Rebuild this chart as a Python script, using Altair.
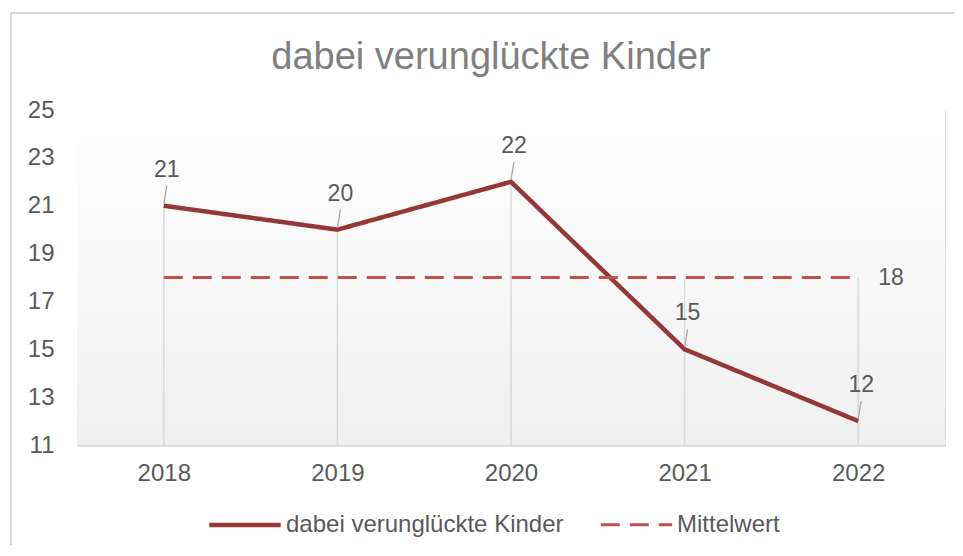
import altair as alt
import pandas as pd
import numpy as np

# ---- data ----
years = ["2018", "2019", "2020", "2021", "2022"]
kinder = [21, 20, 22, 15, 12]
mittelwert = 18
series_names = ["dabei verunglückte Kinder", "Mittelwert"]
y_ticks = [11, 13, 15, 17, 19, 21, 23, 25]
title_text = "dabei verunglückte Kinder"

FONT = "Liberation Sans"
TEXT = "#595959"
RED_DARK = "#953735"
RED_LIGHT = "#c0504d"
GRID = "#d9d9d9"
W, H = 868, 335

long = pd.DataFrame({
    "Jahr": years * 2,
    "Wert": kinder + [mittelwert] * len(years),
    "Reihe": [series_names[0]] * len(years) + [series_names[1]] * len(years),
})
main = pd.DataFrame({"Jahr": years, "Wert": kinder})
drops = pd.DataFrame({
    "Jahr": years,
    "unten": [y_ticks[0]] * len(years),
    "oben": np.maximum(kinder, mittelwert),
})
mean_lbl = pd.DataFrame({"Jahr": [years[-1]], "Wert": [mittelwert]})

x_scale = alt.Scale(type="point", padding=0.5, domain=years)
y_scale = alt.Scale(domain=[y_ticks[0], y_ticks[-1]], nice=False, zero=False)

x_axis = alt.Axis(title=None, labelAngle=0, labelFontSize=24, labelColor=TEXT, labelFont=FONT,
                  labelPadding=16, domainColor=GRID, domainWidth=2.5, ticks=False, grid=False)
y_axis = alt.Axis(title=None, values=y_ticks, labelFontSize=24, labelColor=TEXT, labelFont=FONT,
                  labelPadding=23, domain=False, ticks=False, grid=False)

X = alt.X("Jahr:N", scale=x_scale, axis=x_axis)
Y = alt.Y("Wert:Q", scale=y_scale, axis=y_axis)

# background gradient of the plot area
bg = alt.Chart(main).mark_rect(
    color=alt.LinearGradient(
        gradient="linear",
        stops=[alt.GradientStop(color="#ffffff", offset=0),
               alt.GradientStop(color="#f0f0f0", offset=1)],
        x1=0, x2=0, y1=0, y2=1,
    )
).encode(x=alt.value(0), x2=alt.value(W), y=alt.value(0), y2=alt.value(H))

# outer chart border
border = alt.Chart(main).mark_rect(filled=False, color=GRID, strokeWidth=1.5, clip=False).encode(
    x=alt.value(-66), x2=alt.value(900), y=alt.value(-97), y2=alt.value(500)
)

drop_lines = alt.Chart(drops).mark_rule(color=GRID, strokeWidth=1.5).encode(
    x=X,
    y=alt.Y("unten:Q", scale=y_scale, axis=y_axis),
    y2="oben:Q",
)

leg = alt.Legend(title=None, orient="none", legendX=130, legendY=377, direction="horizontal",
                 symbolType="stroke", symbolSize=5100, labelFontSize=24, labelFont=FONT,
                 labelColor=TEXT, labelOffset=3, columnPadding=30, labelLimit=500)

lines = alt.Chart(long).mark_line().encode(
    x=X,
    y=Y,
    color=alt.Color("Reihe:N", scale=alt.Scale(domain=series_names, range=[RED_DARK, RED_LIGHT]), legend=leg),
    strokeDash=alt.StrokeDash("Reihe:N", scale=alt.Scale(domain=series_names, range=[[1, 0], [19, 10]]), legend=leg),
    strokeWidth=alt.StrokeWidth("Reihe:N", scale=alt.Scale(domain=series_names, range=[4.5, 3]), legend=leg),
    order=alt.Order("Jahr:N"),
)

leaders = alt.Chart(main).mark_rule(color="#a6a6a6", strokeWidth=1.3, yOffset=-2, x2Offset=3, y2Offset=-20).encode(
    x=X, x2="Jahr:N", y=Y, y2="Wert:Q"
)

labels = alt.Chart(main).mark_text(dx=3, dy=-29, baseline="alphabetic", fontSize=23, font=FONT, color=TEXT).encode(
    x=X, y=Y, text="Wert:Q"
)

mean_text = alt.Chart(mean_lbl).mark_text(dx=20, align="left", baseline="middle", fontSize=23, font=FONT, color=TEXT).encode(
    x=X, y=Y, text="Wert:Q"
)

chart = alt.layer(bg, border, drop_lines, lines, leaders, labels, mean_text).properties(
    width=W,
    height=H,
    title=alt.TitleParams(text=title_text, fontSize=38, font=FONT, color="#7f7f7f", fontWeight="normal",
                          anchor="middle", frame="group", dx=-20, offset=-95, baseline="alphabetic"),
    autosize=alt.AutoSizeParams(type="none"),
    padding={"left": 69, "top": 102, "right": 10, "bottom": 100},
).configure_view(stroke=None).configure(background="#ffffff")

chart.save("out.html", embed_options={"renderer": "svg", "actions": False})
